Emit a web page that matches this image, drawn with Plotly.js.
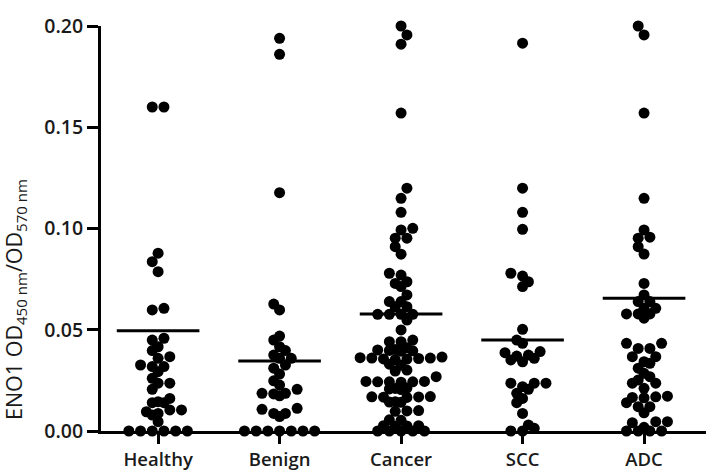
<!DOCTYPE html>
<html>
<head>
<meta charset="utf-8">
<script src="https://cdn.plot.ly/plotly-3.0.1.min.js"></script>
<style>html,body{margin:0;padding:0;background:#fff;}#chart{width:706px;height:470px;}</style>
</head>
<body>
<div id="chart"></div>
<script>
const categories = ['Healthy', 'Benign', 'Cancer', 'SCC', 'ADC'];

const healthy = [0.160, 0.160, 0.0878, 0.0836, 0.0787, 0.0606, 0.0598, 0.0458, 0.0449, 0.0416, 0.0397,
  0.0367, 0.0359, 0.0326, 0.0318, 0.0318, 0.0293, 0.0260, 0.0236, 0.0236, 0.0206, 0.0161, 0.0145,
  0.0140, 0.0140, 0.0104, 0.0104, 0.0095, 0.0087, 0.0079, 0.0046, 0, 0, 0, 0, 0, 0];

const benign = [0.1939, 0.186, 0.1177, 0.0627, 0.0598, 0.0469, 0.0449, 0.0416, 0.0397, 0.0375, 0.0359,
  0.0359, 0.0326, 0.0310, 0.0281, 0.0248, 0.0227, 0.0206, 0.0186, 0.0186, 0.0183, 0.0174, 0.0112,
  0.0107, 0.0087, 0.0087, 0.0071, 0, 0, 0, 0, 0, 0, 0];

const cancer = [0.2000, 0.1956, 0.191, 0.157, 0.1199, 0.1149, 0.108, 0.1001, 0.0993, 0.0952, 0.0952,
  0.091, 0.0873, 0.0779, 0.077, 0.0737, 0.0729, 0.0713, 0.0672, 0.0639, 0.0639, 0.0614, 0.0614,
  0.0576, 0.0576, 0.0576, 0.0576, 0.0548, 0.0499, 0.0449, 0.0441, 0.0441, 0.0411, 0.0402, 0.0400,
  0.0398, 0.0396, 0.0394, 0.0362, 0.0360, 0.0358, 0.0356, 0.0365, 0.0352, 0.0355, 0.0360, 0.0330,
  0.0325, 0.0301, 0.0296, 0.0268, 0.0245, 0.0243, 0.0243, 0.0241, 0.0243, 0.0245, 0.0212, 0.0210,
  0.0208, 0.0205, 0.0170, 0.0168, 0.0166, 0.0167, 0.0169, 0.0145, 0.0142, 0.0143, 0.0101, 0.0097,
  0.0099, 0.0055, 0.0053, 0.0026, 0.0024, 0.0025, 0.0026, 0, 0, 0, 0, 0];

const scc = [0.1915, 0.1199, 0.108, 0.0996, 0.0779, 0.0765, 0.0737, 0.0713, 0.0502, 0.0449, 0.0433,
  0.0392, 0.0387, 0.0375, 0.0370, 0.0359, 0.0351, 0.0342, 0.0236, 0.0236, 0.0236, 0.0219, 0.0206,
  0.0186, 0.0161, 0.014, 0.0087, 0.003, 0.0013, 0, 0];

const adc = [0.2000, 0.1956, 0.157, 0.1149, 0.0993, 0.0957, 0.0952, 0.091, 0.0874, 0.0729, 0.0672,
  0.0639, 0.0639, 0.0606, 0.0606, 0.0578, 0.0578, 0.0578, 0.0557, 0.0433, 0.0433, 0.0408, 0.0408,
  0.0367, 0.0367, 0.0342, 0.0334, 0.031, 0.0285, 0.0268, 0.0252, 0.0236, 0.0236, 0.0211, 0.0172,
  0.0169, 0.0166, 0.0164, 0.014, 0.012, 0.012, 0.009, 0.0046, 0.0046, 0.0041, 0.0018, 0, 0, 0, 0];

const meanLines = [0.0495, 0.0346, 0.0578, 0.0449, 0.0655];

const yTickVals = [0, 0.05, 0.10, 0.15, 0.20];
const yTickText = ['0.00', '0.05', '0.10', '0.15', '0.20'];

// ---- layout geometry ----
const W = 706, H = 470;
const M = {l: 101, r: 0, t: 26, b: 39};
const xRange = [-0.47, 4.51];
const yRange = [0, 0.2];
const dotSize = 11;
const dotGap = 11.7;   // centre spacing in px within a row
const rowH = 6.5;      // row (bin) height in px
const meanHalf = 0.34; // half width of the mean bar in category units

const pxPerX = (W - M.l - M.r) / (xRange[1] - xRange[0]);
const pxPerY = (H - M.t - M.b) / (yRange[1] - yRange[0]);

// Prism-like column scatter: thin rows, neighbouring rows interlocked on a half-step grid
function swarm(values) {
  const h = dotGap / 2;
  const rows = {};
  values.forEach((v, i) => {
    const r = Math.round(v * pxPerY / rowH);
    (rows[r] = rows[r] || []).push(i);
  });
  const keys = Object.keys(rows).map(Number).sort((a, b) => a - b);
  const parity = {};
  const offs = new Array(values.length);
  keys.forEach(r => {
    const idx = rows[r].sort((a, b) => values[a] - values[b]);
    const n = idx.length;
    const natural = n % 2 === 1 ? 0 : 1;
    let p = natural;
    if (parity[r - 1] !== undefined) p = 1 - parity[r - 1];
    parity[r] = p;
    const shift = p === natural ? 0 : (r % 2 ? h : -h);
    const slots = [];
    for (let j = 0; j < n; j++) slots.push((j - (n - 1) / 2) * dotGap + shift);
    slots.sort((a, b) => Math.abs(a) - Math.abs(b) || a - b);
    idx.forEach((i, k) => { offs[i] = slots[k] / pxPerX; });
  });
  return offs;
}

const groups = [healthy, benign, cancer, scc, adc];
const traces = [];
groups.forEach((vals, gi) => {
  const offs = swarm(vals);
  traces.push({
    type: 'scatter', mode: 'markers',
    x: offs.map(o => gi + o), y: vals,
    marker: {color: '#000', size: dotSize, line: {width: 0}},
    cliponaxis: false, showlegend: false, hoverinfo: 'y',
    name: categories[gi]
  });
});

const mx = [], my = [];
meanLines.forEach((m, gi) => { mx.push(gi - meanHalf, gi + meanHalf, null); my.push(m, m, null); });
traces.push({
  type: 'scatter', mode: 'lines', x: mx, y: my,
  line: {color: '#000', width: 3}, cliponaxis: false, showlegend: false, hoverinfo: 'skip'
});

const font = {family: '"Open Sans", "Noto Sans", sans-serif', color: '#1a1a1a'};

const layout = {
  width: W, height: H,
  margin: M,
  paper_bgcolor: '#fff', plot_bgcolor: '#fff',
  showlegend: false,
  xaxis: {
    range: xRange, tickmode: 'array', tickvals: categories.map((c, i) => i), ticktext: categories,
    showline: true, linecolor: '#000', linewidth: 3, zeroline: false, showgrid: false,
    ticks: 'outside', ticklen: 10, tickwidth: 3, tickcolor: '#000',
    tickfont: Object.assign({size: 18.5, weight: 600}, font), fixedrange: true
  },
  yaxis: {
    range: yRange, tickmode: 'array', tickvals: yTickVals, ticktext: yTickText,
    showline: true, linecolor: '#000', linewidth: 3, zeroline: false, showgrid: false,
    ticks: 'outside', ticklen: 11, tickwidth: 3, tickcolor: '#000',
    tickfont: Object.assign({size: 19.5, weight: 600}, font), fixedrange: true
  },
  annotations: [{
    text: 'ENO1 OD<sub>450 nm</sub>/OD<sub>570 nm</sub>',
    xref: 'paper', yref: 'paper', x: -0.141, y: 0.325,
    xanchor: 'center', yanchor: 'middle', textangle: -90, showarrow: false,
    font: Object.assign({size: 21.5}, font)
  }]
};

Plotly.newPlot('chart', traces, layout, {displayModeBar: false, staticPlot: true});
</script>
</body>
</html>
